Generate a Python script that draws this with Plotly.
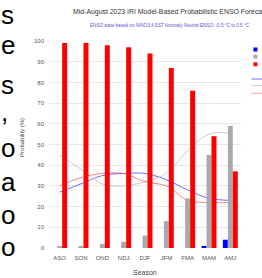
import plotly.graph_objects as go

seasons = ["ASO", "SON", "OND", "NDJ", "DJF", "JFM", "FMA", "MAM", "AMJ"]
lanina = [0, 0, 0, 0, 0, 0, 0, 1, 4]
neutral = [0.5, 0.5, 2, 3, 6, 13, 24, 45, 59]
elnino = [99, 99, 98, 97, 94, 87, 76, 54, 37]
clim_lanina = [27, 31, 35, 36, 36, 33, 28, 24, 23]
clim_neutral = [45, 38, 31, 30, 32, 36, 47, 55, 55.5]
clim_elnino = [30, 34, 36, 36, 32, 30, 23, 22, 22]
y_ticks = [0, 10, 20, 30, 40, 50, 60, 70, 80, 90, 100]
side_letters = ["s", "e", "s", ",", "o", "a", "o", "o"]

W, H = 262, 278
L, R, T, B = 49, 240.6, 41, 248


def px_x(p):
    return (p - L) / (R - L)


def px_y(p):
    return (B - p) / (B - T)


fig = go.Figure()
fig.add_trace(go.Scatter(x=seasons, y=clim_lanina, mode="lines", name="La Niña Clim.",
                         line=dict(color="rgba(60,60,255,0.75)", width=1, shape="spline"),
                         showlegend=False, zorder=0))
fig.add_trace(go.Scatter(x=seasons, y=clim_neutral, mode="lines", name="Neutral Clim.",
                         line=dict(color="#cccccc", width=1, shape="spline"),
                         showlegend=False, zorder=0))
fig.add_trace(go.Scatter(x=seasons, y=clim_elnino, mode="lines", name="El Niño Clim.",
                         line=dict(color="rgba(255,80,80,0.7)", width=1, shape="spline"),
                         showlegend=False, zorder=0))
fig.add_trace(go.Bar(x=seasons, y=lanina, name="La Niña", marker_color="#0000ff",
                     marker_line_width=0, showlegend=False, zorder=1))
fig.add_trace(go.Bar(x=seasons, y=neutral, name="Neutral", marker_color="#aaaaaa",
                     marker_line_width=0, showlegend=False, zorder=1))
fig.add_trace(go.Bar(x=seasons, y=elnino, name="El Niño", marker_color="#ff0000",
                     marker_line_width=0, showlegend=False, zorder=1))

ann = []
ann.append(dict(text="Mid-August 2023 IRI Model-Based Probabilistic ENSO Forecast",
                x=px_x(71), y=px_y(12), xref="paper", yref="paper", xanchor="left",
                yanchor="middle", showarrow=False,
                font=dict(family="Liberation Sans", size=6.9, color="#333333")))
ann.append(dict(text="ENSO state based on NINO3.4 SST Anomaly Neutral ENSO: -0.5 °C to 0.5 °C",
                x=px_x(88), y=px_y(26), xref="paper", yref="paper", xanchor="left",
                yanchor="middle", showarrow=False,
                font=dict(family="Liberation Sans", size=4.6, color="#5b4fd6")))
ann.append(dict(text="Probability (%)", x=px_x(22), y=px_y(137), xref="paper", yref="paper",
                textangle=-90, showarrow=False, xanchor="center", yanchor="middle",
                font=dict(family="Liberation Sans", size=6, color="#444444")))
ann.append(dict(text="Season", x=px_x(145), y=px_y(272), xref="paper", yref="paper",
                showarrow=False, xanchor="center", yanchor="middle",
                font=dict(family="Liberation Sans", size=7, color="#444444")))
letter_y = [15, 45, 85, 112, 148, 182, 215, 247]
for ch, yy in zip(side_letters, letter_y):
    ann.append(dict(text=ch, x=px_x(-1), y=px_y(yy), xref="paper", yref="paper",
                    xanchor="left", yanchor="middle", showarrow=False,
                    font=dict(family="Liberation Sans", size=26, color="#000000")))

shapes = []
for col, yy in zip(["#0000ff", "#aaaaaa", "#ff0000"], [49.5, 56.7, 64.3]):
    shapes.append(dict(type="rect", xref="paper", yref="paper", x0=px_x(253), x1=px_x(257),
                       y0=px_y(yy + 2), y1=px_y(yy - 2), fillcolor=col, line_width=0))
for col, yy in zip(["rgba(60,60,255,0.75)", "#cccccc", "rgba(255,80,80,0.5)"], [79, 85.7, 93.3]):
    shapes.append(dict(type="line", xref="paper", yref="paper", x0=px_x(251), x1=px_x(262),
                       y0=px_y(yy), y1=px_y(yy), line=dict(color=col, width=1)))

fig.update_layout(
    width=W, height=H,
    margin=dict(l=L, r=W - R, t=T, b=H - B, pad=0),
    paper_bgcolor="white", plot_bgcolor="white",
    barmode="group", bargap=0.3, bargroupgap=0,
    showlegend=False,
    annotations=ann, shapes=shapes,
    font=dict(family="Liberation Sans", size=6, color="#555555"),
)
fig.update_xaxes(type="category", showgrid=False, ticks="", showline=True,
                 linecolor="#d8dbe8", linewidth=1, tickfont=dict(size=6, color="#555555"),
                 ticklabelstandoff=4)
fig.update_yaxes(range=[0, 100], tickvals=y_ticks, showgrid=True, gridcolor="#e8e8e8",
                 gridwidth=1, zeroline=False, showline=False, ticks="",
                 tickfont=dict(size=6, color="#555555"), ticklabelstandoff=4)

fig.write_html("out.html", config={"displayModeBar": False},
               post_script="document.body.style.margin='0';document.body.style.overflow='hidden';")
